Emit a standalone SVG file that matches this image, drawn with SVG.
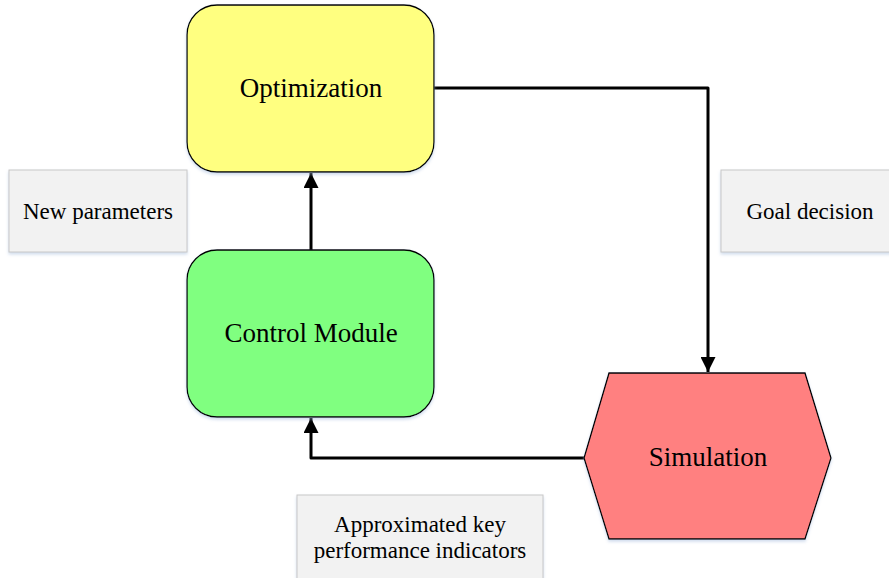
<svg xmlns="http://www.w3.org/2000/svg" width="889" height="578" viewBox="0 0 889 578">
  <style>
    .node { stroke: #000; stroke-width: 1.3; }
    .label { fill: #F2F2F2; stroke: #C8C8C8; stroke-width: 1; }
    .big { font-family: "Liberation Serif", "Times New Roman", serif; font-size: 27px; fill: #000; text-anchor: middle; }
    .small { font-family: "Liberation Serif", "Times New Roman", serif; font-size: 23px; fill: #000; text-anchor: middle; }
    .conn { fill: none; stroke: #000; stroke-width: 3; stroke-linejoin: round; }
  </style>
  <defs>
    <filter id="shadow" x="-10%" y="-10%" width="120%" height="130%">
      <feDropShadow dx="0" dy="2" stdDeviation="1.5" flood-color="#9AB4D8" flood-opacity="0.45"/>
    </filter>
    <marker id="arrow" viewBox="0 0 10 10" refX="10" refY="5" markerWidth="5" markerHeight="5" orient="auto" markerUnits="strokeWidth">
      <path d="M0,0 L10,5 L0,10 z" fill="#000"/>
    </marker>
  </defs>
  <rect width="889" height="578" fill="#fff"/>

  <g id="new-parameters">
    <rect class="label" x="9" y="170" width="178" height="82" filter="url(#shadow)"/>
    <text class="small" x="98" y="219">New parameters</text>
  </g>

  <g id="goal-decision">
    <rect class="label" x="721" y="170" width="175" height="82" filter="url(#shadow)"/>
    <text class="small" x="810" y="219">Goal decision</text>
  </g>

  <g id="approximated-kpi">
    <rect class="label" x="297" y="495" width="246" height="86" filter="url(#shadow)"/>
    <text class="small" x="420" y="532">Approximated key</text>
    <text class="small" x="420" y="558">performance indicators</text>
  </g>

  <g id="connectors">
    <path class="conn" d="M311,251 L311,173" marker-end="url(#arrow)"/>
    <path class="conn" d="M434,88 L708,88 L708,372" marker-end="url(#arrow)"/>
    <path class="conn" d="M584,458 L311,458 L311,418" marker-end="url(#arrow)"/>
  </g>

  <g id="optimization">
    <rect class="node" x="187" y="5" width="247" height="167" rx="30" ry="30" fill="#FFFF80" filter="url(#shadow)"/>
    <text class="big" x="311" y="97">Optimization</text>
  </g>

  <g id="control-module">
    <rect class="node" x="187" y="250" width="247" height="167" rx="30" ry="30" fill="#80FF80" filter="url(#shadow)"/>
    <text class="big" x="311" y="342">Control Module</text>
  </g>

  <g id="simulation">
    <polygon class="node" points="609,373 805,373 831,458 805,539 609,539 584,458" fill="#FF8080" filter="url(#shadow)"/>
    <text class="big" x="708" y="466">Simulation</text>
  </g>
</svg>
